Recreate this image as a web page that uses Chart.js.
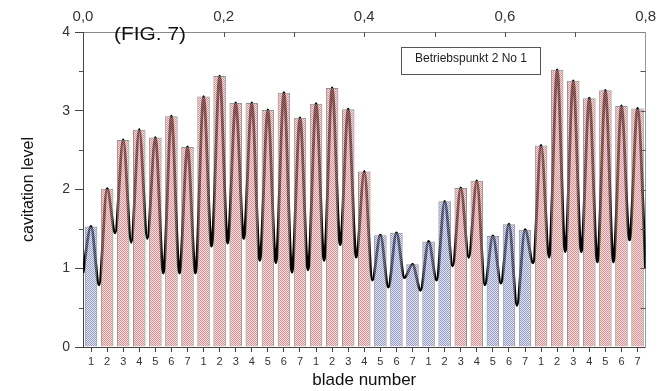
<!DOCTYPE html>
<html>
<head>
<meta charset="utf-8">
<script src="https://cdn.jsdelivr.net/npm/chart.js@4"></script>
<style>
  html, body { margin: 0; padding: 0; background: #fff; }
  #wrap { position: relative; width: 662px; height: 391px; }
  #fig { position: absolute; left: 114px; top: 23px; font: 19px "Liberation Sans", Arial, sans-serif; color: #111; transform: scaleX(1.1); transform-origin: left top; }
  #box { position: absolute; left: 401px; top: 47px; width: 140px; height: 28px; border: 1px solid #555; box-sizing: border-box; font: 12px "Liberation Sans", Arial, sans-serif; color: #222; text-align: center; padding-top: 3px; }
</style>
</head>
<body>
<div id="wrap">
  <canvas id="c" width="662" height="391"></canvas>
  <div id="fig">(FIG. 7)</div>
  <div id="box">Betriebspunkt 2 No 1</div>
</div>
<script>
// blade labels along the bottom (5 revolutions of 7 blades)
const bladeLabels = [
  '1','2','3','4','5','6','7',
  '1','2','3','4','5','6','7',
  '1','2','3','4','5','6','7',
  '1','2','3','4','5','6','7',
  '1','2','3','4','5','6','7'
];

// bar heights = cavitation level per blade passage
const cavitation = [
  1.53, 2.01, 2.63, 2.76, 2.66, 2.93, 2.54,
  3.18, 3.44, 3.10, 3.10, 3.01, 3.23, 2.91,
  3.09, 3.29, 3.02, 2.23, 1.42, 1.45, 1.05,
  1.34, 1.85, 2.02, 2.11, 1.41, 1.56, 1.49,
  2.56, 3.52, 3.38, 3.16, 3.26, 3.06, 3.03
];

// signal minima: start, between each pair of blades, end
const troughs = [
  0.94,
  0.79, 1.45, 1.33, 1.38, 0.94, 0.94, 0.94,
  1.28, 1.32, 1.38, 1.10, 1.07, 0.95, 0.98,
  1.10, 1.30, 1.14, 0.85, 0.76, 0.88, 0.72,
  0.85, 1.03, 1.14, 0.79, 0.81, 0.53, 1.07,
  1.14, 1.21, 1.21, 1.08, 1.08, 1.36,
  1.00
];

const topTicks = [0, 0.2, 0.4, 0.6, 0.8];

function makePattern(light, dark) {
  const c = document.createElement('canvas');
  c.width = 4; c.height = 4;
  const g = c.getContext('2d');
  for (let y = 0; y < 4; y++) {
    for (let x = 0; x < 4; x++) {
      g.fillStyle = ((x + y) % 2 === 0) ? dark : light;
      g.fillRect(x, y, 1, 1);
    }
  }
  return g.createPattern(c, 'repeat');
}

document.addEventListener('DOMContentLoaded', function() {
  const ctx = document.getElementById('c').getContext('2d');

  const redFill = makePattern('rgba(242,195,195,0.6)', 'rgba(185,85,85,0.62)');
  const blueFill = makePattern('rgba(208,212,236,0.6)', 'rgba(85,95,155,0.62)');

  // line points: trough at i-0.5, peak at i
  const signal = [];
  for (let i = 0; i < troughs.length; i++) {
    signal.push({ x: i - 0.5, y: troughs[i] });
    if (i < cavitation.length) signal.push({ x: i, y: cavitation[i] });
  }

  // inward ticks on top/right, minor ticks on left
  const extraTicks = {
    id: 'extraTicks',
    afterDraw(chart) {
      const { ctx, chartArea: a, scales } = chart;
      ctx.save();
      ctx.strokeStyle = '#555';
      ctx.lineWidth = 1;
      ctx.beginPath();
      for (let k = 1; k < 8; k++) {
        const px = Math.round(scales.xt.getPixelForValue(k / 10)) + 0.5;
        ctx.moveTo(px, a.top);
        ctx.lineTo(px, a.top + 5);
      }
      for (let k = 1; k < 8; k++) {
        const py = Math.round(scales.y2.getPixelForValue(k / 2)) + 0.5;
        ctx.moveTo(a.right, py);
        ctx.lineTo(a.right - 5, py);
      }
      for (let k = 1; k < 8; k += 2) {
        const py = Math.round(scales.y.getPixelForValue(k / 2)) + 0.5;
        ctx.moveTo(a.left, py);
        ctx.lineTo(a.left - 4, py);
      }
      ctx.stroke();
      ctx.restore();
    }
  };

  const font = 'Liberation Sans';

  new Chart(ctx, {
    type: 'bar',
    data: {
      labels: bladeLabels,
      datasets: [
        {
          data: cavitation,
          backgroundColor: cavitation.map(v => v < 1.9 ? blueFill : redFill),
          borderColor: 'rgba(120,120,120,0.8)',
          borderWidth: 1,
          barPercentage: 0.78,
          categoryPercentage: 1,
          grouped: false,
          xAxisID: 'x',
          yAxisID: 'y',
          order: 1
        },
        {
          type: 'line',
          data: signal,
          xAxisID: 'xl',
          yAxisID: 'y',
          borderColor: '#000',
          borderWidth: 2.8,
          pointRadius: 0,
          cubicInterpolationMode: 'monotone',
          fill: false,
          order: 2
        }
      ]
    },
    options: {
      responsive: false,
      animation: false,
      layout: { padding: { left: 15, right: 0, top: 0, bottom: 0 } },
      plugins: { legend: { display: false }, tooltip: { enabled: false } },
      scales: {
        x: {
          type: 'category',
          position: 'bottom',
          offset: true,
          grid: { drawOnChartArea: false, tickLength: 5, color: '#444', offset: false },
          border: { color: '#444' },
          ticks: { color: '#333', font: { family: font, size: 11 }, padding: 3, autoSkip: false, maxRotation: 0 },
          title: { display: true, text: 'blade number', color: '#111', font: { family: font, size: 17 }, padding: { top: 0, bottom: 0 } },
          afterFit(s) { s.height = 44; }
        },
        xl: { type: 'linear', display: false, offset: false, min: -0.5, max: 34.5 },
        xt: {
          type: 'linear',
          position: 'top',
          offset: false,
          min: 0,
          max: 0.8,
          afterBuildTicks(s) { s.ticks = topTicks.map(v => ({ value: v })); },
          ticks: { color: '#333', font: { family: font, size: 15 }, padding: 6, maxRotation: 0, callback: v => v.toFixed(1).replace('.', ',') },
          grid: { drawOnChartArea: false, drawTicks: false, offset: false },
          border: { color: '#888' },
          afterFit(s) { s.height = 32; }
        },
        y: {
          position: 'left',
          min: 0,
          max: 4,
          ticks: { stepSize: 1, color: '#333', font: { family: font, size: 14 }, padding: 5 },
          grid: { drawOnChartArea: false, tickLength: 8, color: '#444' },
          border: { color: '#444' },
          title: { display: true, text: 'cavitation level', color: '#111', font: { family: font, size: 16 } },
          afterFit(s) { s.width = 68; }
        },
        y2: {
          position: 'right',
          min: 0,
          max: 4,
          ticks: { display: false },
          grid: { display: false },
          border: { display: true, color: '#999' },
          afterFit(s) { s.width = 16; }
        }
      }
    },
    plugins: [extraTicks]
  });
});
</script>
</body>
</html>
